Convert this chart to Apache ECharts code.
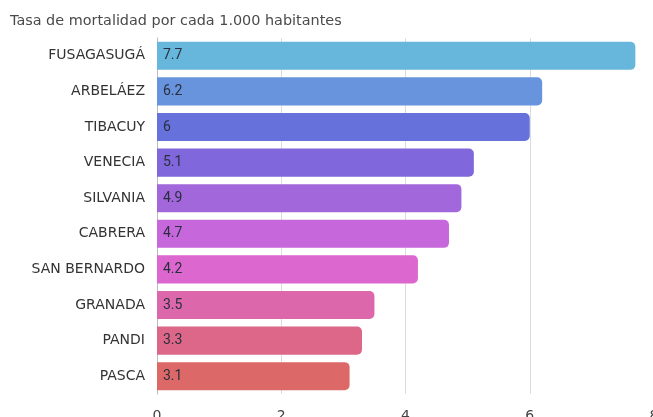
<!DOCTYPE html>
<html><head><meta charset="utf-8">
<script src="https://cdn.jsdelivr.net/npm/echarts@6/dist/echarts.min.js"></script>
<style>html,body{margin:0;padding:0;background:#fff}#c{width:653px;height:417px}</style>
</head><body><div id="c"></div>
<script>
const categories = ["FUSAGASUGÁ","ARBELÁEZ","TIBACUY","VENECIA","SILVANIA","CABRERA","SAN BERNARDO","GRANADA","PANDI","PASCA"];
const values = [7.7, 6.2, 6, 5.1, 4.9, 4.7, 4.2, 3.5, 3.3, 3.1];
const colors = ["#67b7dc","#6794dc","#6771dc","#8067dc","#a367dc","#c767dc","#dc67ce","#dc67ab","#dc6788","#dc6967"];
const ticks = [0, 2, 4, 6, 8];
const title = "Tasa de mortalidad por cada 1.000 habitantes";
const FONT = 'DejaVu Sans';

const chart = echarts.init(document.getElementById('c'), null, {renderer:'canvas'});
chart.setOption({
  animation: false,
  title: { text: title, left: 5, top: 9, textStyle: { fontFamily: FONT, fontSize: 14.4, fontWeight: 'normal', color: '#4a4a4a' } },
  grid: { left: 157, top: 38, width: 497, height: 356, outerBoundsMode: 'none', containLabel: false },
  xAxis: {
    type: 'value', min: ticks[0], max: ticks[ticks.length-1], interval: 2,
    axisLine: { show: false }, axisTick: { show: false },
    splitLine: { lineStyle: { color: '#dcdcdc' } },
    axisLabel: { fontFamily: FONT, fontSize: 14, color: '#444', margin: 15 }
  },
  yAxis: {
    type: 'category', data: categories, inverse: true,
    axisLine: { lineStyle: { color: '#bbb' } }, axisTick: { show: false },
    axisLabel: { fontFamily: FONT, fontSize: 14, color: '#333', margin: 12 }
  },
  series: [{
    type: 'bar', data: values.map((v,i)=>({ value: v, itemStyle: { color: colors[i] } })),
    barCategoryGap: '21%',
    itemStyle: { borderRadius: [0, 5, 5, 0] },
    label: { show: true, position: 'insideLeft', distance: 6, fontFamily: 'Roboto', fontSize: 14, color: '#2a2f3f' }
  }]
});
</script></body></html>
